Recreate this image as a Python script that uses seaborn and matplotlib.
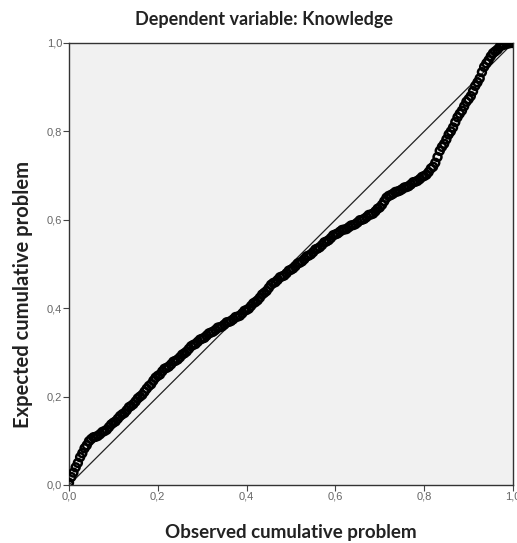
import pandas as pd
import seaborn as sns
import matplotlib.pyplot as plt

# P-P plot values (two interleaved runs of points)
observed = [0.00, 0.01, 0.02, 0.03, 0.04, 0.05, 0.06, 0.07, 0.08, 0.09,
            0.10, 0.11, 0.12, 0.13, 0.14, 0.15, 0.16, 0.17, 0.18, 0.19,
            0.20, 0.21, 0.22, 0.23, 0.24, 0.25, 0.26, 0.27, 0.28, 0.29,
            0.30, 0.31, 0.32, 0.33, 0.34, 0.35, 0.36, 0.37, 0.38, 0.39,
            0.40, 0.41, 0.42, 0.43, 0.44, 0.45, 0.46, 0.47, 0.48, 0.49,
            0.50, 0.51, 0.52, 0.53, 0.54, 0.55, 0.56, 0.57, 0.58, 0.59,
            0.60, 0.61, 0.62, 0.63, 0.64, 0.65, 0.66, 0.67, 0.68, 0.69,
            0.70, 0.71, 0.72, 0.73, 0.74, 0.75, 0.76, 0.77, 0.78, 0.79,
            0.80, 0.81, 0.82, 0.83, 0.84, 0.85, 0.86, 0.87, 0.88, 0.89,
            0.90, 0.91, 0.92, 0.93, 0.94, 0.95, 0.96, 0.97, 0.98, 0.99,
            1.00]
expected = [0.005, 0.028, 0.050, 0.072, 0.090, 0.104, 0.109, 0.115, 0.122, 0.131,
            0.141, 0.150, 0.160, 0.169, 0.179, 0.189, 0.200, 0.211, 0.224, 0.236,
            0.247, 0.257, 0.265, 0.273, 0.281, 0.289, 0.298, 0.308, 0.317, 0.324,
            0.331, 0.338, 0.345, 0.351, 0.357, 0.363, 0.369, 0.375, 0.381, 0.388,
            0.396, 0.405, 0.414, 0.424, 0.435, 0.446, 0.457, 0.464, 0.472, 0.479,
            0.487, 0.495, 0.503, 0.511, 0.519, 0.527, 0.535, 0.543, 0.551, 0.559,
            0.567, 0.573, 0.578, 0.583, 0.588, 0.594, 0.600, 0.606, 0.612, 0.619,
            0.628, 0.642, 0.654, 0.659, 0.664, 0.669, 0.674, 0.680, 0.686, 0.692,
            0.699, 0.708, 0.720, 0.742, 0.765, 0.782, 0.800, 0.821, 0.840, 0.857,
            0.873, 0.891, 0.911, 0.934, 0.954, 0.970, 0.981, 0.991, 0.996, 0.999,
            1.000]
observed_mid = [0.005, 0.015, 0.025, 0.035, 0.045, 0.055, 0.065, 0.075, 0.085, 0.095,
                0.105, 0.115, 0.125, 0.135, 0.145, 0.155, 0.165, 0.175, 0.185, 0.195,
                0.205, 0.215, 0.225, 0.235, 0.245, 0.255, 0.265, 0.275, 0.285, 0.295,
                0.305, 0.315, 0.325, 0.335, 0.345, 0.355, 0.365, 0.375, 0.385, 0.395,
                0.405, 0.415, 0.425, 0.435, 0.445, 0.455, 0.465, 0.475, 0.485, 0.495,
                0.505, 0.515, 0.525, 0.535, 0.545, 0.555, 0.565, 0.575, 0.585, 0.595,
                0.605, 0.615, 0.625, 0.635, 0.645, 0.655, 0.665, 0.675, 0.685, 0.695,
                0.705, 0.715, 0.725, 0.735, 0.745, 0.755, 0.765, 0.775, 0.785, 0.795,
                0.805, 0.815, 0.825, 0.835, 0.845, 0.855, 0.865, 0.875, 0.885, 0.895,
                0.905, 0.915, 0.925, 0.935, 0.945, 0.955, 0.965, 0.975, 0.985, 0.995]
expected_mid = [0.018, 0.040, 0.063, 0.083, 0.099, 0.108, 0.111, 0.120, 0.125, 0.137,
                0.144, 0.156, 0.163, 0.176, 0.183, 0.196, 0.204, 0.218, 0.228, 0.243,
                0.250, 0.263, 0.268, 0.279, 0.284, 0.295, 0.302, 0.314, 0.319, 0.329,
                0.333, 0.343, 0.347, 0.356, 0.359, 0.368, 0.371, 0.380, 0.383, 0.394,
                0.399, 0.411, 0.418, 0.431, 0.439, 0.453, 0.459, 0.470, 0.474, 0.485,
                0.490, 0.501, 0.506, 0.517, 0.522, 0.533, 0.538, 0.549, 0.554, 0.565,
                0.569, 0.577, 0.579, 0.587, 0.590, 0.599, 0.602, 0.611, 0.614, 0.625,
                0.634, 0.650, 0.656, 0.663, 0.666, 0.673, 0.676, 0.685, 0.688, 0.697,
                0.702, 0.716, 0.729, 0.756, 0.772, 0.793, 0.809, 0.832, 0.847, 0.867,
                0.880, 0.903, 0.920, 0.946, 0.961, 0.977, 0.985, 0.995, 0.998, 1.000]
ticks = [0.0, 0.2, 0.4, 0.6, 0.8, 1.0]
tick_labels = ["0,0", "0,2", "0,4", "0,6", "0,8", "1,0"]

df = pd.DataFrame({"observed": observed + observed_mid,
                   "expected": expected + expected_mid})

sns.set_style("white")
plt.rcParams['font.family'] = ['Liberation Sans', 'DejaVu Sans']

fig = plt.figure(figsize=(5.17, 5.43), dpi=100)
ax = fig.add_axes([69 / 517, 58 / 543, 444 / 517, 442 / 543])
ax.set_facecolor("#f1f1f1")

# reference diagonal
ax.plot([0, 1], [0, 1], color="#222222", lw=0.9, zorder=2)

sns.scatterplot(data=df, x="observed", y="expected", ax=ax,
                marker="o", s=32, facecolor="none", edgecolor="black",
                linewidth=1.8, zorder=3)

ax.set_xlim(0, 1)
ax.set_ylim(0, 1)
ax.set_xticks(ticks)
ax.set_xticklabels(tick_labels)
ax.set_yticks(ticks)
ax.set_yticklabels(tick_labels)
ax.tick_params(axis="both", direction="out", length=4, width=0.8,
               color="#444444", labelsize=8, labelcolor="#666666",
               bottom=True, left=True, pad=1)
for sp in ax.spines.values():
    sp.set_color("#333333")
    sp.set_linewidth(1.0)

ax.set_title("Dependent variable: Knowledge", fontsize=13, fontweight="bold",
             family=["Lato", "DejaVu Sans"], color="#222222", pad=13, x=0.44)
ax.set_xlabel("Observed cumulative problem", fontsize=13.5, fontweight="bold",
              family=["Lato", "DejaVu Sans"], color="#222222", labelpad=16)
ax.set_ylabel("Expected cumulative problem", fontsize=14.5, fontweight="bold",
              family=["Lato", "DejaVu Sans"], color="#222222")
ax.yaxis.set_label_coords(-0.08, 0.43)

fig.savefig("out.png", dpi=100)
